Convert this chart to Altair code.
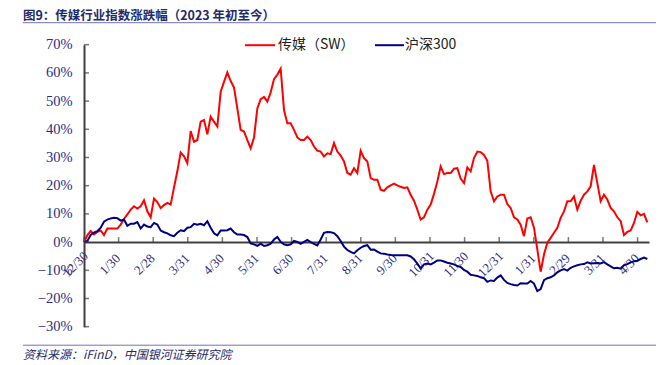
import altair as alt
import pandas as pd

# ---------------- data ----------------
month_labels = ["12/30", "1/30", "2/28", "3/31", "4/30", "5/31", "6/30", "7/31", "8/31",
                "9/30", "10/31", "11/30", "12/31", "1/31", "2/29", "3/31", "4/30"]
series_names = ["传媒（SW）", "沪深300"]
y_ticks = [-30, -20, -10, 0, 10, 20, 30, 40, 50, 60, 70]

# cumulative change (%), one reading every 2 trading days starting 2022-12-30
media = [
    0, 2.4, 3.9, 2.7, 3.6, 4.1, 2.5, 4.8, 4.8, 4.8, 4.8, 6.2, 8.2, 9.8, 11.5, 12.7, 11.9, 12.7, 14.8, 10.9,
    8.8, 15.4, 14.2, 12.1, 13.1, 13.9, 13.3, 19.4, 25.1, 31.8, 30.4, 28.0, 39.4, 35.6, 36.2, 42.7, 43.3, 38.2, 44.5, 42.7,
    41.0, 53.3, 56.8, 60.2,
    57.1, 54.8, 47.4, 39.8, 39.2, 36.2, 33.3, 37.1, 47.4, 50.7, 51.5, 49.8, 53.1, 57.8, 59.4, 61.5, 46.8, 42.1, 42.1, 39.8,
    37.1, 36.2, 36.2, 37.4, 36.2, 33.9, 32.4, 32.1, 30.4, 31.5, 31.2, 35.1, 32.1, 30.7, 28.6, 24.5, 23.9, 26.2, 24.5, 32.4,
    29.8, 28.6, 22.7, 22.1,
    22.1, 18.6, 18.2, 19.4, 20.1, 20.7, 20.1, 19.6, 19.2, 19.4, 16.8, 14.7, 11.5, 8.0, 8.8, 11.5, 13.3, 17.1, 21.5, 26.8,
    24.1, 24.5, 24.5, 26.0, 26.2, 22.5, 20.9, 26.5, 25.1, 29.8, 32.1, 31.9, 30.9, 28.8, 18.0, 14.5, 16.2, 16.8, 16.8, 13.5,
    12.1, 8.8, 8.0,
    6.2, 2.1, 8.4, 8.8, 5.1, -2.6, -10.5, -4.4, -0.2, 1.5, 3.3, 5.1, 8.6, 10.9, 14.5, 14.5, 16.2, 11.5, 14.7, 16.8,
    18.0, 19.8, 27.4, 20.9, 14.5, 16.8, 15.1, 12.1, 10.9, 8.8, 7.4, 2.5, 3.6, 4.1, 6.8, 10.7, 9.5, 10.0, 7.0,
]
hs300 = [
    0, 0.4, 2.5, 3.4, 3.9, 5.1, 7.2, 8.0, 8.4, 8.6, 8.5, 7.6, 8.0, 5.8, 6.5, 6.5, 7.1, 4.8, 6.2, 5.5,
    5.3, 6.8, 6.2, 4.1, 3.5, 3.1, 2.4, 2.1, 3.3, 4.2, 3.9, 5.1, 5.3, 6.5, 6.2, 6.5, 6.0, 7.4, 5.1, 3.1,
    2.4, 4.1, 4.1, 4.2,
    4.8, 3.5, 2.7, 2.7, 2.5, 1.8, -0.5, -0.8, -1.3, -0.6, -1.4, -1.1, -0.6, 0.9, 1.8, 0.1, -0.8, -1.1, -0.8, 0.4,
    0.1, -0.6, 0.1, 0.8, 0, -0.6, -1.2, 0.9, 3.3, 3.6, 3.5, 3.2, 2.1, 0.4, -1.6, -2.8, -3.5, -4.0, -2.9, -2.0,
    -1.4, -1.1, -2.7, -2.6,
    -3.4, -4.0, -4.1, -4.4, -4.6, -4.7, -4.7, -4.7, -4.7, -4.7, -5.1, -6.1, -7.6, -9.4, -7.9, -7.6, -7.9, -7.3, -6.5, -6.5,
    -6.9, -7.3, -7.6, -7.9, -8.5, -8.8, -9.9, -10.5, -11.6, -11.8, -12.0, -12.5, -12.8, -14.1, -13.6, -13.8, -12.6, -11.8, -13.4, -14.5,
    -14.9, -15.2, -15.4,
    -14.6, -14.7, -14.7, -13.8, -14.7, -17.4, -16.7, -13.5, -12.8, -12.5, -11.8, -10.7, -10.0, -9.6, -10.1, -9.1, -8.6, -8.2, -7.9, -7.8,
    -7.2, -7.6, -7.5, -7.4, -7.6, -7.1, -7.9, -8.6, -9.3, -9.1, -9.4, -8.2, -7.8, -7.2, -6.8, -6.6, -6.0, -5.5, -6.0,
]

title_text = "图9：传媒行业指数涨跌幅（2023 年初至今）"
source_text = "资料来源：iFinD，中国银河证券研究院"

# ---------------- build tables ----------------
day_step = 2
days_per_month = 20.76
last_day = 339

rows = []
for name, vals in zip(series_names, [media, hs300]):
    for i, v in enumerate(vals):
        rows.append({"day": i * day_step, "series": name, "value": v / 100.0})
df = pd.DataFrame(rows)

xtick_df = pd.DataFrame({"day": [k * days_per_month for k in range(len(month_labels))]})
ytick_df = pd.DataFrame({"v": [t / 100.0 for t in y_ticks]})

# ---------------- styling ----------------
W, H = 565, 282
RED = "#FF0000"
NAVY_LINE = "#000080"
LABEL = "#2B2C7E"
AXIS = "#404040"
RULE = "#7272B8"
CJK = "Noto Sans CJK SC"
SERIF = "Liberation Serif"

x_scale = alt.Scale(domain=[0, last_day], nice=False, zero=False)
y_scale = alt.Scale(domain=[-0.3, 0.7], nice=False)

label_arr = "[" + ",".join("'" + s + "'" for s in month_labels) + "]"
x_axis = alt.Axis(
    values=[k * days_per_month for k in range(len(month_labels))],
    labelExpr=label_arr + "[round(datum.value / " + str(days_per_month) + ")]",
    orient="bottom", offset=-0.3 * H, tickSize=0, ticks=False,
    domainColor=AXIS, domainWidth=2, grid=False, title=None,
    labelAngle=-45, labelAlign="center", labelBaseline="middle",
    labelPadding=22, labelOffset=-9, labelFont=SERIF, labelFontSize=13,
    labelColor=LABEL, labelOverlap=False, labelBound=False, labelFlush=False,
)
y_axis = alt.Axis(
    values=[t / 100.0 for t in y_ticks], format=".0%", tickSize=0, ticks=False,
    domainColor=AXIS, domainWidth=2, grid=False, title=None,
    labelPadding=12, labelFont=SERIF, labelFontSize=14.5, labelColor=LABEL,
)

base = alt.Chart(df)

red_line = base.transform_filter(alt.datum.series == series_names[0]).mark_line(
    color=RED, strokeWidth=2).encode(
    x=alt.X("day:Q", scale=x_scale, axis=x_axis),
    y=alt.Y("value:Q", scale=y_scale, axis=y_axis),
)
blue_line = base.transform_filter(alt.datum.series == series_names[1]).mark_line(
    color=NAVY_LINE, strokeWidth=2).encode(
    x=alt.X("day:Q", scale=x_scale, axis=x_axis),
    y=alt.Y("value:Q", scale=y_scale, axis=y_axis),
)

xticks = alt.Chart(xtick_df).mark_tick(orient="vertical", size=5, thickness=1.5,
                                        color=AXIS, yOffset=-2.5).encode(
    x=alt.X("day:Q", scale=x_scale, axis=x_axis),
    y=alt.YDatum(0, scale=y_scale, axis=y_axis),
)
yticks = alt.Chart(ytick_df).mark_tick(orient="horizontal", size=5, thickness=1.5,
                                        color=AXIS, xOffset=2.5).encode(
    y=alt.Y("v:Q", scale=y_scale, axis=y_axis),
    x=alt.XDatum(0, scale=x_scale, axis=x_axis),
)

one = pd.DataFrame({"k": [0]})

def rule(x1, x2, y, color, width):
    return alt.Chart(one).mark_rule(color=color, strokeWidth=width).encode(
        x=alt.value(x1), x2=alt.value(x2), y=alt.value(y))

def label(txt, x, y, size, color, font, weight="normal", style="normal", baseline="middle"):
    return alt.Chart(one).mark_text(align="left", baseline=baseline, fontSize=size,
                                    color=color, font=font, fontWeight=weight,
                                    fontStyle=style).encode(
        x=alt.value(x), y=alt.value(y), text=alt.value(txt))

title_rule = rule(-61, 572, -22, RULE, 1)
bottom_rule = rule(-61, 572, 300.5, RULE, 1)
title_lbl = label(title_text, -61, -34.2, 12.5, "#1F2B6B", CJK, weight="bold", baseline="top")
source_lbl = label(source_text, -61, 310.5, 12, "#1F2B6B", CJK, style="italic")

leg_red = rule(161, 191, 0.5, RED, 2)
leg_red_t = label(series_names[0], 194, 0.5, 14, "#222222", CJK)
leg_blue = rule(291, 320, 0.5, NAVY_LINE, 2)
leg_blue_t = label(series_names[1], 321, 0.5, 14, "#222222", CJK)

chart = alt.layer(
    red_line, blue_line, xticks, yticks,
    title_rule, bottom_rule, title_lbl, source_lbl,
    leg_red, leg_red_t, leg_blue, leg_blue_t,
).properties(
    width=W, height=H,
    autosize=alt.AutoSizeParams(type="none"),
    padding={"left": 76, "top": 36.7, "right": 7, "bottom": 40},
    background="white",
).configure_view(stroke=None)

chart.save("out.html", embed_options={"renderer": "svg", "actions": False})
